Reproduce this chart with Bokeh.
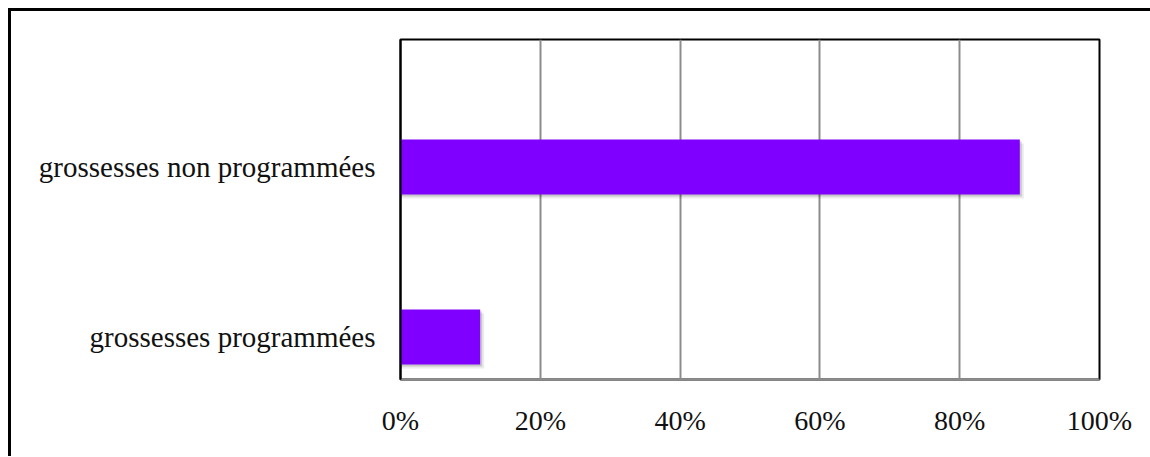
from bokeh.plotting import figure
from bokeh.models import Range1d, FixedTicker, ColumnDataSource
from bokeh.embed import file_html
from bokeh.resources import INLINE

# ---- data ----
categories = ["grossesses programmées", "grossesses non programmées"]
values = [11.4, 88.6]
x_ticks = [0, 20, 40, 60, 80, 100]
x_tick_labels = ["0%", "20%", "40%", "60%", "80%", "100%"]

# ---- layout constants ----
BAR_OFFSET = 0.25      # bars sit below category centre (Excel-like)
BAR_HEIGHT = 0.324
FRAME_W, FRAME_H = 699, 340
PX_X = 100 / FRAME_W   # data units per pixel (x)
PX_Y = 2 / FRAME_H     # data units per pixel (y)

ypos = [i + BAR_OFFSET for i in range(len(categories))]

src = ColumnDataSource(dict(
    y=ypos,
    v=values,
    y_sh1=[y - 2 * PX_Y for y in ypos],
    v_sh1=[v + 2 * PX_X for v in values],
    y_sh2=[y - 4 * PX_Y for y in ypos],
    v_sh2=[v + 4 * PX_X for v in values],
))

p = figure(
    frame_width=FRAME_W, frame_height=FRAME_H,
    min_border_left=389, min_border_top=28, min_border_right=51, min_border_bottom=77,
    x_range=Range1d(0, 100), y_range=Range1d(0, 2),
    output_backend="svg", toolbar_location=None,
)
p.styles = {"border-left": "3px solid black", "border-top": "3px solid black",
            "margin-left": "8px", "margin-top": "8px"}

# shadows
p.hbar(y="y_sh2", left=0, right="v_sh2", height=BAR_HEIGHT, source=src,
       fill_color="#000000", fill_alpha=0.08, line_color=None)
p.hbar(y="y_sh1", left=0, right="v_sh1", height=BAR_HEIGHT, source=src,
       fill_color="#000000", fill_alpha=0.15, line_color=None)
# bars
p.hbar(y="y", left=0, right="v", height=BAR_HEIGHT, source=src,
       fill_color="#7F00FF", line_color=None)

# x axis
p.xaxis.ticker = FixedTicker(ticks=x_ticks)
p.xaxis.major_label_overrides = {t: l for t, l in zip(x_ticks, x_tick_labels)}
p.xaxis.major_label_text_font = "Liberation Serif"
p.xaxis.major_label_text_font_size = "28px"
p.xaxis.major_label_text_color = "#111111"
p.xaxis.major_label_standoff = 19
p.xaxis.major_tick_line_color = None
p.xaxis.minor_tick_line_color = None
p.xaxis.axis_line_color = "#8c8c8c"
p.xaxis.axis_line_width = 2

# y axis
p.yaxis.ticker = FixedTicker(ticks=ypos)
p.yaxis.major_label_overrides = {y: c for y, c in zip(ypos, categories)}
p.yaxis.major_label_text_font = "Liberation Serif"
p.yaxis.major_label_text_font_size = "29px"
p.yaxis.major_label_text_color = "#111111"
p.yaxis.major_label_standoff = 19
p.yaxis.major_tick_line_color = None
p.yaxis.minor_tick_line_color = None
p.yaxis.axis_line_color = "black"
p.yaxis.axis_line_width = 2

# grid
p.xgrid.ticker = FixedTicker(ticks=x_ticks[1:-1])
p.xgrid.grid_line_color = "#8c8c8c"
p.xgrid.grid_line_width = 2
p.ygrid.grid_line_color = None

p.outline_line_color = "black"
p.outline_line_width = 2
p.background_fill_color = "white"
p.border_fill_color = "white"

open("out.html", "w").write(file_html(p, INLINE))
